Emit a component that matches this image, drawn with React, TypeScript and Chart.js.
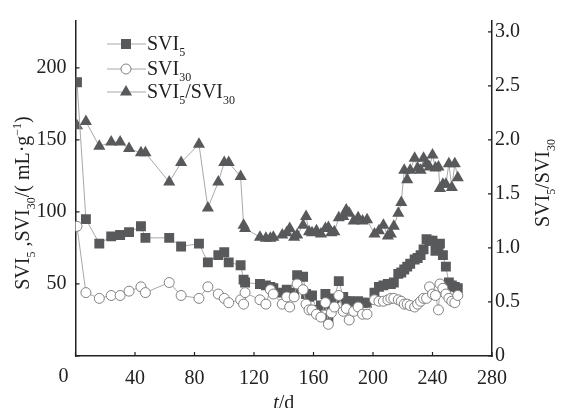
import React, { useEffect, useRef } from "react";
import { Chart, registerables } from "chart.js";

Chart.register(...registerables);

const days = [1, 7, 16, 24, 30, 36, 44, 47, 63, 71, 83, 89, 96, 100, 103, 111, 113, 114, 124, 128, 131, 133, 139, 142, 144, 147, 149, 153, 155, 157, 159, 162, 165, 168, 170, 172, 174, 177, 180, 182, 184, 187, 190, 193, 196, 201, 204, 207, 210, 212, 214, 217, 219, 221, 223, 225, 228, 230, 232, 234, 236, 238, 240, 242, 244, 245, 247, 249, 251, 253, 255, 257];

const svi5 = [190, 95, 78, 83, 84, 86, 90, 82, 82, 76, 78, 65, 70, 72, 65, 63, 53, 51, 50, 49, 48, 47, 44, 46, 42, 44, 56, 55, 43, 41, 42, 32, 35, 43, 26, 34, 40, 52, 41, 38, 38, 36, 38, 37, 37, 44, 48, 49, 50, 50, 51, 57, 58, 60, 62, 64, 67, 68, 70, 74, 81, 80, 80, 73, 76, 78, 70, 62, 51, 49, 48, 47];

const svi30 = [90, 44, 40, 42, 42, 45, 48, 44, 51, 42, 40, 48, 43, 40, 37, 39, 36, 44, 39, 36, 46, 43, 36, 41, 34, 41, 50, 46, 36, 32, 32, 29, 27, 37, 22, 30, 34, 42, 31, 33, 25, 31, 34, 29, 29, 39, 38, 38, 39, 40, 40, 39, 38, 36, 36, 35, 34, 36, 38, 40, 40, 48, 43, 42, 32, 50, 47, 43, 40, 38, 37, 42];

const ratio = [2.13, 2.17, 1.94, 1.98, 1.98, 1.92, 1.88, 1.88, 1.61, 1.79, 1.96, 1.37, 1.61, 1.79, 1.79, 1.66, 1.21, 1.18, 1.1, 1.09, 1.09, 1.1, 1.12, 1.14, 1.18, 1.1, 1.12, 1.21, 1.29, 1.15, 1.14, 1.16, 1.13, 1.18, 1.19, 1.14, 1.15, 1.28, 1.29, 1.35, 1.32, 1.25, 1.28, 1.25, 1.26, 1.13, 1.16, 1.21, 1.11, 1.13, 1.2, 1.32, 1.42, 1.72, 1.63, 1.72, 1.83, 1.74, 1.72, 1.83, 1.78, 1.75, 1.86, 1.74, 1.75, 1.55, 1.59, 1.59, 1.78, 1.56, 1.78, 1.65];

const xTicks = [0, 40, 80, 120, 160, 200, 240, 280];
const leftTicks = [0, 50, 100, 150, 200];
const rightTicks = [0, 0.5, 1.0, 1.5, 2.0, 2.5, 3.0];

const FONT = "'Liberation Serif', 'DejaVu Serif', serif";
const DARK = "#58595b";
const LINE = "#a8a8a8";
const CIRC = "#808080";
const TXT = 20;

type Seg = { t: string; m?: "sub" | "sup"; i?: boolean };

function segFont(s: Seg, size: number) {
  const sz = s.m ? Math.round(size * 0.62) : size;
  return `${s.i ? "italic " : ""}${sz}px ${FONT}`;
}

function drawRich(ctx: CanvasRenderingContext2D, segs: Seg[], x: number, y: number, size: number, align: "left" | "center") {
  let total = 0;
  for (const s of segs) {
    ctx.font = segFont(s, size);
    total += ctx.measureText(s.t).width;
  }
  let cx = align === "center" ? x - total / 2 : x;
  ctx.textBaseline = "alphabetic";
  ctx.textAlign = "left";
  for (const s of segs) {
    ctx.font = segFont(s, size);
    let dy = 0;
    if (s.m === "sub") dy = size * 0.28;
    if (s.m === "sup") dy = -size * 0.42;
    ctx.fillText(s.t, cx, y + dy);
    cx += ctx.measureText(s.t).width;
  }
}

function marker(ctx: CanvasRenderingContext2D, kind: string, x: number, y: number) {
  ctx.save();
  ctx.lineWidth = 1;
  if (kind === "rect") {
    ctx.fillStyle = DARK;
    ctx.fillRect(x - 5, y - 5, 10, 10);
  } else if (kind === "circle") {
    ctx.fillStyle = "#fff";
    ctx.strokeStyle = CIRC;
    ctx.beginPath();
    ctx.arc(x, y, 5, 0, Math.PI * 2);
    ctx.fill();
    ctx.stroke();
  } else {
    const r = 7;
    ctx.fillStyle = DARK;
    ctx.beginPath();
    ctx.moveTo(x, y - r);
    ctx.lineTo(x + r * Math.sin(Math.PI / 3), y + r / 2);
    ctx.lineTo(x - r * Math.sin(Math.PI / 3), y + r / 2);
    ctx.closePath();
    ctx.fill();
  }
  ctx.restore();
}

const decor = {
  id: "decor",
  afterDraw(chart: any) {
    const ctx: CanvasRenderingContext2D = chart.ctx;
    const { left, right, bottom } = chart.chartArea;
    const xs = chart.scales.x;
    const yl = chart.scales.y;
    const yr = chart.scales.y1;
    ctx.save();
    ctx.strokeStyle = "#222";
    ctx.lineWidth = 1.2;
    ctx.beginPath();
    for (const v of xTicks) {
      const px = xs.getPixelForValue(v);
      ctx.moveTo(px, bottom);
      ctx.lineTo(px, bottom - 4);
    }
    for (const v of leftTicks) {
      const py = yl.getPixelForValue(v);
      ctx.moveTo(left, py);
      ctx.lineTo(left + 4, py);
    }
    for (const v of rightTicks) {
      const py = yr.getPixelForValue(v);
      ctx.moveTo(right, py);
      ctx.lineTo(right - 4, py);
    }
    ctx.stroke();

    ctx.fillStyle = "#222";
    ctx.font = `${TXT}px ${FONT}`;
    ctx.textAlign = "center";
    ctx.textBaseline = "middle";
    ctx.fillText("0", left - 12, 377);

    ctx.save();
    ctx.translate(29, 203);
    ctx.rotate(-Math.PI / 2);
    drawRich(ctx, [
      { t: "SVI" }, { t: "5", m: "sub" }, { t: " ,SVI" }, { t: "30", m: "sub" },
      { t: "/( mL·g" }, { t: "−1", m: "sup" }, { t: ")" },
    ], 0, 0, TXT, "center");
    ctx.restore();

    ctx.save();
    ctx.translate(549, 183);
    ctx.rotate(-Math.PI / 2);
    drawRich(ctx, [{ t: "SVI" }, { t: "5", m: "sub" }, { t: "/SVI" }, { t: "30", m: "sub" }], 0, 0, TXT, "center");
    ctx.restore();

    drawRich(ctx, [{ t: "t", i: true }, { t: "/d" }], (left + right) / 2, 409, TXT, "center");

    const items: [string, Seg[], number][] = [
      ["rect", [{ t: "SVI" }, { t: "5", m: "sub" }], 44],
      ["circle", [{ t: "SVI" }, { t: "30", m: "sub" }], 69],
      ["tri", [{ t: "SVI" }, { t: "5", m: "sub" }, { t: "/SVI" }, { t: "30", m: "sub" }], 92],
    ];
    for (const [k, segs, y] of items) {
      ctx.strokeStyle = LINE;
      ctx.lineWidth = 1;
      ctx.beginPath();
      ctx.moveTo(107, y);
      ctx.lineTo(146, y);
      ctx.stroke();
      marker(ctx, k, 126, y);
      ctx.fillStyle = "#222";
      drawRich(ctx, segs, 147, y + 6, TXT, "left");
    }
    ctx.restore();
  },
};

export default function App() {
  const ref = useRef<HTMLCanvasElement | null>(null);
  useEffect(() => {
    if (!ref.current) return;
    const pts = (vals: number[]) => days.map((d, i) => ({ x: d, y: vals[i] }));
    const chart = new Chart(ref.current, {
      type: "line",
      data: {
        datasets: [
          {
            label: "SVI5",
            data: pts(svi5),
            yAxisID: "y",
            borderColor: LINE,
            borderWidth: 1,
            pointStyle: "rect",
            pointRadius: 7,
            pointBackgroundColor: DARK,
            pointBorderColor: DARK,
            pointBorderWidth: 0,
            order: 1,
          },
          {
            label: "SVI30",
            data: pts(svi30),
            yAxisID: "y",
            borderColor: LINE,
            borderWidth: 1,
            pointStyle: "circle",
            pointRadius: 5,
            pointBackgroundColor: "#fff",
            pointBorderColor: CIRC,
            pointBorderWidth: 1,
            order: 0,
          },
          {
            label: "SVI5/SVI30",
            data: pts(ratio),
            yAxisID: "y1",
            borderColor: LINE,
            borderWidth: 1,
            pointStyle: "triangle",
            pointRadius: 7,
            pointBackgroundColor: DARK,
            pointBorderColor: DARK,
            pointBorderWidth: 0,
            order: 2,
          },
        ],
      },
      options: {
        responsive: false,
        animation: false,
        events: [],
        layout: { padding: { top: 12, left: 0, right: 0, bottom: 0 } },
        plugins: { legend: { display: false }, tooltip: { enabled: false } },
        scales: {
          x: {
            type: "linear",
            min: 0,
            max: 280,
            afterBuildTicks: (s: any) => { s.ticks = xTicks.map((v) => ({ value: v })); },
            afterFit: (s: any) => { s.height = 52; },
            ticks: {
              autoSkip: false,
              maxRotation: 0,
              padding: 11,
              color: "#222",
              font: { family: FONT, size: TXT },
              callback: (v: any) => (v === 0 ? "" : String(v)),
            },
            grid: { display: false, drawTicks: false },
            border: { display: true, color: "#222", width: 1.5 },
          },
          y: {
            type: "linear",
            position: "left",
            min: 0,
            max: 232.5,
            afterBuildTicks: (s: any) => { s.ticks = leftTicks.map((v) => ({ value: v })); },
            afterFit: (s: any) => { s.width = 75.5; },
            ticks: {
              padding: 9,
              color: "#222",
              font: { family: FONT, size: TXT },
              callback: (v: any) => (v === 0 ? "" : String(v)),
            },
            grid: { display: false, drawTicks: false },
            border: { display: true, color: "#222", width: 1.5 },
          },
          y1: {
            type: "linear",
            position: "right",
            min: 0,
            max: 3.1,
            afterBuildTicks: (s: any) => { s.ticks = rightTicks.map((v) => ({ value: v })); },
            afterFit: (s: any) => { s.width = 74; },
            ticks: {
              padding: 3,
              color: "#222",
              font: { family: FONT, size: TXT },
              callback: (v: any) => (v === 0 ? "0" : Number(v).toFixed(1)),
            },
            grid: { display: false, drawTicks: false },
            border: { display: true, color: "#222", width: 1.5 },
          },
        },
      },
      plugins: [decor],
    } as any);
    return () => chart.destroy();
  }, []);
  return (
    <div style={{ position: "fixed", left: 0, top: 0, width: 566, height: 408, background: "#fff" }}>
      <canvas ref={ref} width={566} height={408} style={{ width: 566, height: 408 }} />
    </div>
  );
}
